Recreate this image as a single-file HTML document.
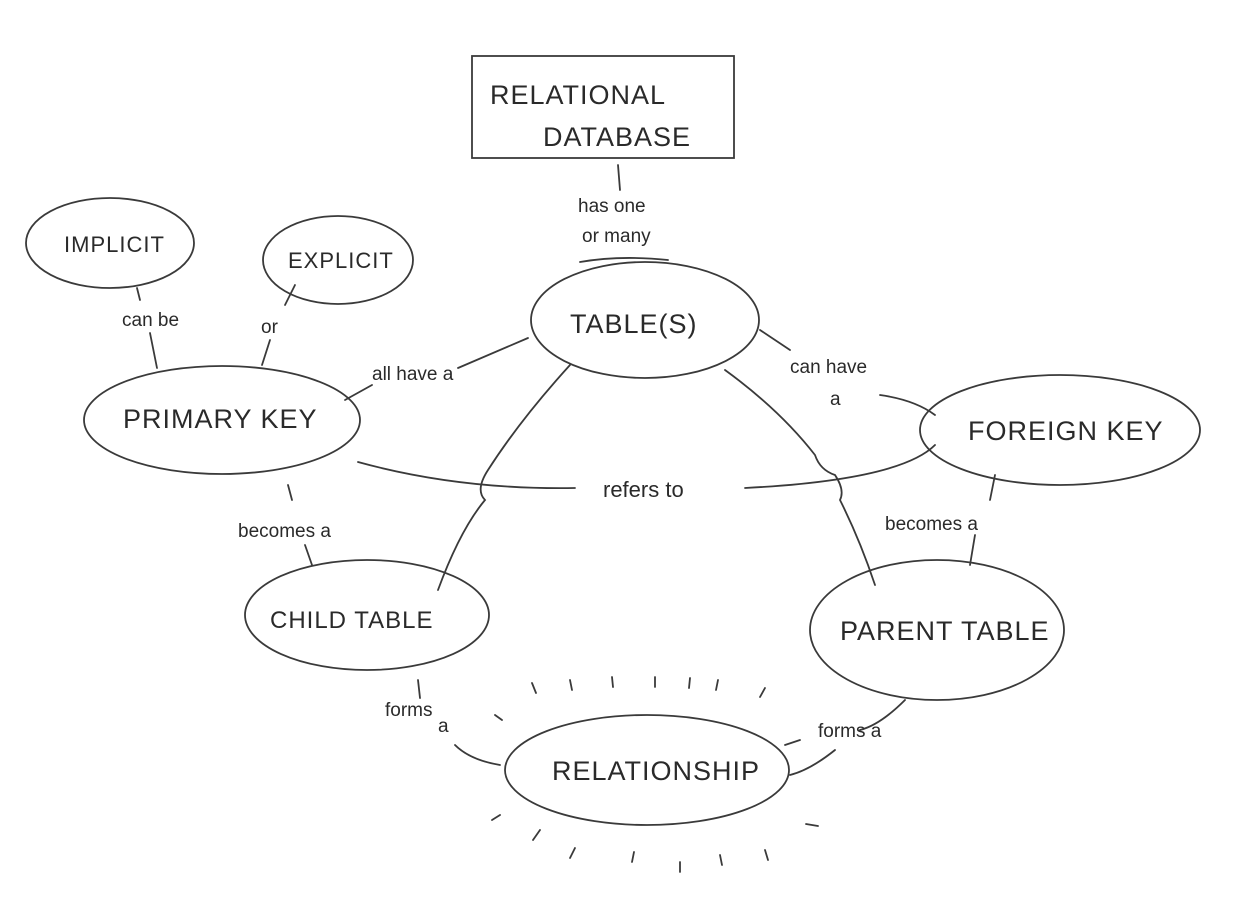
<!DOCTYPE html>
<html><head><meta charset="utf-8"><style>
html,body{margin:0;padding:0;background:#fff;}
svg{display:block}
text{font-family:"Liberation Sans",sans-serif;fill:#2a2a2a;}
.n{font-size:27px;letter-spacing:1px}
.l{font-size:19px}
</style></head><body>
<svg width="1259" height="908" viewBox="0 0 1259 908" xmlns="http://www.w3.org/2000/svg">
<g fill="none" stroke="#3a3a3a" stroke-width="1.8" stroke-linecap="round">
<rect x="472" y="56" width="262" height="102"/>
<ellipse cx="645" cy="320" rx="114" ry="58"/>
<ellipse cx="110" cy="243" rx="84" ry="45"/>
<ellipse cx="338" cy="260" rx="75" ry="44"/>
<ellipse cx="222" cy="420" rx="138" ry="54"/>
<ellipse cx="1060" cy="430" rx="140" ry="55"/>
<ellipse cx="367" cy="615" rx="122" ry="55"/>
<ellipse cx="937" cy="630" rx="127" ry="70"/>
<ellipse cx="647" cy="770" rx="142" ry="55"/>
<path d="M618 165 L620 190"/>
<path d="M580 262 Q620 255 668 260"/>
<path d="M137 288 L140 300 M150 333 L157 368"/>
<path d="M295 285 L285 305 M270 340 L262 365"/>
<path d="M345 400 L372 385 M458 368 L528 338"/>
<path d="M760 330 L790 350 M880 395 Q915 400 935 415"/>
<path d="M358 462 Q460 490 575 488"/>
<path d="M745 488 Q900 480 935 445"/>
<path d="M570 365 Q520 420 488 470 Q475 490 485 500 Q460 530 438 590"/>
<path d="M725 370 Q780 410 815 455 Q820 470 835 475 Q845 490 840 500 Q860 540 875 585"/>
<path d="M288 485 L292 500 M305 545 L312 565"/>
<path d="M995 475 L990 500 M975 535 L970 565"/>
<path d="M418 680 L420 698 M455 745 Q470 760 500 765"/>
<path d="M905 700 Q880 725 860 730 M800 740 L785 745 M835 750 Q810 770 790 775"/>
<path d="M495 715 L502 720 M532 683 L536 693 M570 680 L572 690 M612 677 L613 687 M655 677 L655 687 M690 678 L689 688 M718 680 L716 690 M765 688 L760 697 M540 830 L533 840 M575 848 L570 858 M634 852 L632 862 M680 862 L680 872 M720 855 L722 865 M765 850 L768 860 M806 824 L818 826 M500 815 L492 820"/>
</g>
<text class="n" x="490" y="104">RELATIONAL</text>
<text class="n" x="543" y="146">DATABASE</text>
<text class="l" x="578" y="212">has one</text>
<text class="l" x="582" y="242">or many</text>
<text class="n" x="570" y="333">TABLE(S)</text>
<text class="n" x="64" y="252" style="font-size:22px">IMPLICIT</text>
<text class="n" x="288" y="268" style="font-size:22px">EXPLICIT</text>
<text class="l" x="122" y="326">can be</text>
<text class="l" x="261" y="333">or</text>
<text class="n" x="123" y="428">PRIMARY KEY</text>
<text class="l" x="372" y="380">all have a</text>
<text class="l" x="790" y="373">can have</text>
<text class="l" x="830" y="405">a</text>
<text class="n" x="968" y="440">FOREIGN KEY</text>
<text class="l" x="603" y="497" style="font-size:22px">refers to</text>
<text class="l" x="238" y="537">becomes a</text>
<text class="l" x="885" y="530">becomes a</text>
<text class="n" x="270" y="628" style="font-size:24px">CHILD TABLE</text>
<text class="n" x="840" y="640">PARENT TABLE</text>
<text class="l" x="385" y="716">forms</text>
<text class="l" x="438" y="732">a</text>
<text class="l" x="818" y="737">forms a</text>
<text class="n" x="552" y="780">RELATIONSHIP</text>
</svg>
</body></html>
